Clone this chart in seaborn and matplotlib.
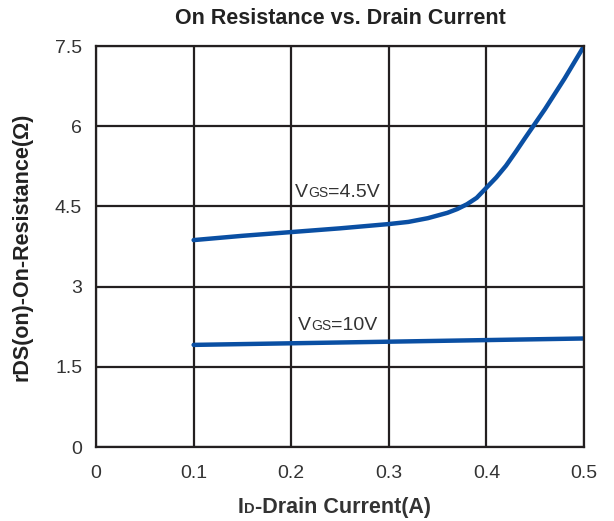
import pandas as pd
import numpy as np
import matplotlib
matplotlib.use('Agg')
import matplotlib.pyplot as plt
import seaborn as sns

# drain current (A) and on-resistance (ohm)
id_45v = [0.10, 0.15, 0.20, 0.25, 0.30, 0.32, 0.34, 0.36, 0.37, 0.38, 0.39, 0.40, 0.41, 0.42, 0.43, 0.44, 0.46, 0.48, 0.50]
r_45v = [3.87, 3.95, 4.02, 4.09, 4.17, 4.21, 4.28, 4.38, 4.45, 4.54, 4.66, 4.85, 5.04, 5.26, 5.52, 5.79, 6.32, 6.89, 7.50]
id_10v = [0.10, 0.20, 0.30, 0.40, 0.50]
r_10v = [1.91, 1.94, 1.97, 2.00, 2.03]

x_ticks = [0, 0.1, 0.2, 0.3, 0.4, 0.5]
x_labels = ['0', '0.1', '0.2', '0.3', '0.4', '0.5']
y_ticks = [0, 1.5, 3, 4.5, 6, 7.5]
y_labels = ['0', '1.5', '3', '4.5', '6', '7.5']

df45 = pd.DataFrame({'id': id_45v, 'r': r_45v})
df10 = pd.DataFrame({'id': id_10v, 'r': r_10v})

sns.set_style('white')
plt.rcParams['font.family'] = ['Liberation Sans', 'DejaVu Sans']

line_col = '#0a4fa3'
grid_col = '#231f20'

fig = plt.figure(figsize=(6.14, 5.21), dpi=100)
ax = fig.add_axes([0.1564, 0.142, 0.7948, 0.7697])

sns.lineplot(data=df45, x='id', y='r', ax=ax, color=line_col, linewidth=3.2)
sns.lineplot(data=df10, x='id', y='r', ax=ax, color=line_col, linewidth=3.2)

ax.set_xlim(0, 0.5)
ax.set_ylim(0, 7.5)
ax.set_xticks(x_ticks)
ax.set_xticklabels(x_labels)
ax.set_yticks(y_ticks)
ax.set_yticklabels(y_labels)
ax.tick_params(length=0, labelsize=14, labelcolor='#333333')
ax.tick_params(axis='x', pad=13)
ax.tick_params(axis='y', pad=10)
ax.grid(True, color=grid_col, linewidth=1.6)
ax.set_axisbelow(True)
for s in ax.spines.values():
    s.set_color(grid_col)
    s.set_linewidth(1.6)

ax.set_xlabel('')
ax.set_ylabel('rDS(on)-On-Resistance(Ω)', fontsize=15.5, fontweight='bold', color='#222222')
ax.yaxis.set_label_coords(-0.131, 0.5)
ax.set_title('On Resistance vs. Drain Current', fontsize=15.5, fontweight='bold', color='#222222', pad=16)

renderer = fig.canvas.get_renderer()

# text pieces on one baseline, the middle one smaller ("GS", "D")
def chain_label(x, y, parts, weight='normal', coords='data'):
    tr = ax.transData if coords == 'data' else ax.transAxes
    px, py = tr.transform((x, y))
    for txt, size in parts:
        t = fig.text(px, py, txt, fontsize=size, color='#333333', fontweight=weight,
                     transform=None, va='baseline', ha='left')
        px = t.get_window_extent(renderer).x1

chain_label(0.204, 4.68, [('V', 14), ('GS', 10), ('=4.5V', 14)])
chain_label(0.207, 2.19, [('V', 14), ('GS', 10), ('=10V', 14)])
chain_label(0.291, -0.165, [('I', 15.5), ('D', 10.5), ('-Drain Current(A)', 15.5)],
            weight='bold', coords='axes')

plt.savefig('out.png', dpi=100)
